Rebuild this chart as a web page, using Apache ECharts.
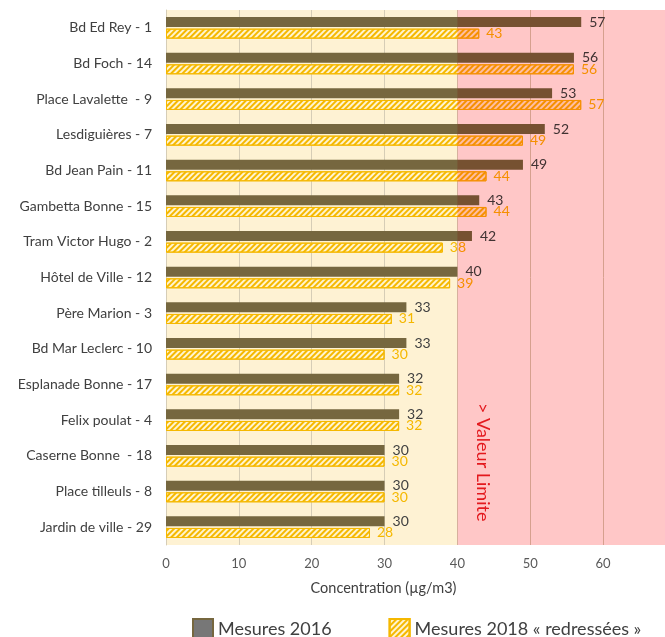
<!DOCTYPE html>
<html>
<head>
<meta charset="utf-8">
<script src="https://cdn.jsdelivr.net/npm/echarts@6/dist/echarts.min.js"></script>
<style>
  html, body { margin: 0; padding: 0; background: #ffffff; }
  #chart { width: 665px; height: 637px; }
</style>
</head>
<body>
<div id="chart"></div>
<script>
// Stations, listed top to bottom
const stations = [
  'Bd Ed Rey - 1',
  'Bd Foch - 14',
  'Place Lavalette  - 9',
  'Lesdiguières - 7',
  'Bd Jean Pain - 11',
  'Gambetta Bonne - 15',
  'Tram Victor Hugo - 2',
  'Hôtel de Ville - 12',
  'Père Marion - 3',
  'Bd Mar Leclerc - 10',
  'Esplanade Bonne - 17',
  'Felix poulat - 4',
  'Caserne Bonne  - 18',
  'Place tilleuls - 8',
  'Jardin de ville - 29'
];

// NO2 concentrations (µg/m3)
const values2016 = [57, 56, 53, 52, 49, 43, 42, 40, 33, 33, 32, 32, 30, 30, 30];
const values2018 = [43, 56, 57, 49, 44, 44, 38, 39, 31, 30, 32, 32, 30, 30, 28];

// Annual limit value and axis range
const limitValue = 40;
const axisMin = 0;
const axisMax = 68.5;
const axisStep = 10;

const seriesNames = ['Mesures 2016', 'Mesures 2018 « redressées »'];
const axisTitle = 'Concentration (µg/m3)';
const limitText = '> Valeur Limite';

const FONT = 'Lato, "Open Sans", sans-serif';

// Shaded zone across the full plot height between two x values
function zoneRenderer(fill) {
  return function (params, api) {
    const cs = params.coordSys;
    const x0 = api.coord([api.value(0), 0])[0];
    const x1 = api.coord([api.value(1), 0])[0];
    return {
      type: 'rect',
      silent: true,
      shape: { x: x0, y: cs.y, width: x1 - x0, height: cs.height },
      style: { fill: fill }
    };
  };
}

const chart = echarts.init(document.getElementById('chart'), null, { renderer: 'canvas' });

chart.setOption({
  backgroundColor: '#ffffff',
  animation: false,
  textStyle: { fontFamily: FONT },
  grid: {
    left: 166,
    right: 0,
    top: 10,
    bottom: 92,
    containLabel: false,
    outerBoundsMode: 'none'
  },
  legend: {
    left: 187,
    top: 613,
    icon: 'rect',
    itemWidth: 20,
    itemHeight: 20,
    itemGap: 57,
    selectedMode: false,
    textStyle: { fontSize: 18, color: '#404040', fontFamily: FONT },
    data: [
      { name: seriesNames[0], itemStyle: { color: '#777777', borderColor: '#76673F', borderWidth: 2 } },
      { name: seriesNames[1] }
    ]
  },
  xAxis: {
    type: 'value',
    min: axisMin,
    max: axisMax,
    interval: axisStep,
    z: 1,
    axisLine: { show: false },
    axisTick: { show: false },
    splitLine: { show: true, lineStyle: { color: '#D6CDB6', width: 1 } },
    axisLabel: {
      showMaxLabel: false,
      color: '#595959',
      fontSize: 13,
      fontFamily: FONT,
      margin: 12
    },
    name: axisTitle,
    nameLocation: 'middle',
    nameGap: 36,
    nameTextStyle: { color: '#404040', fontSize: 14.5, fontFamily: FONT, padding: [0, 64, 0, 0] }
  },
  yAxis: {
    type: 'category',
    data: stations,
    inverse: true,
    z: 1,
    axisLine: { show: true, lineStyle: { color: '#D6CDB6', width: 1 } },
    axisTick: { show: false },
    splitLine: { show: false },
    axisLabel: { color: '#404040', fontSize: 14, fontFamily: FONT, margin: 14 }
  },
  series: [
    {
      name: 'zone-below-limit',
      type: 'custom',
      z: 0,
      silent: true,
      encode: { x: [0, 1] },
      data: [[axisMin, limitValue]],
      renderItem: zoneRenderer('#FEF2D3')
    },
    {
      name: seriesNames[0],
      type: 'bar',
      z: 2,
      barWidth: 10,
      barGap: '16%',
      data: values2016,
      itemStyle: { color: '#76673F' },
      label: {
        show: true,
        position: 'right',
        distance: 8,
        color: '#404040',
        fontSize: 14,
        fontFamily: FONT
      }
    },
    {
      name: seriesNames[1],
      type: 'bar',
      z: 2,
      barWidth: 10,
      data: values2018,
      itemStyle: {
        color: '#FFF4CF',
        borderColor: '#F5B800',
        borderWidth: 1,
        decal: {
          symbol: 'rect',
          symbolSize: 1,
          color: '#F5B800',
          dashArrayX: [1, 0],
          dashArrayY: [2, 2],
          rotation: -Math.PI / 4
        }
      },
      label: {
        show: true,
        position: 'right',
        distance: 7,
        color: '#F5B800',
        fontSize: 14,
        fontFamily: FONT
      }
    },
    {
      // Tinted exceedance zone, multiplied over the bars beneath it
      name: 'zone-above-limit',
      type: 'custom',
      z: 5,
      silent: true,
      blendMode: 'multiply',
      encode: { x: [0, 1] },
      data: [[limitValue, axisMax]],
      renderItem: zoneRenderer('#FFC7C7')
    }
  ]
});

// Vertical annotation inside the exceedance zone
const limitX = chart.convertToPixel({ xAxisIndex: 0 }, limitValue);
chart.setOption({
  graphic: [{
    type: 'text',
    z: 100,
    x: limitX + 25,
    y: 403,
    rotation: -Math.PI / 2,
    style: {
      text: limitText,
      fill: '#E3191E',
      fontSize: 18,
      fontFamily: FONT,
      textAlign: 'left',
      textVerticalAlign: 'middle'
    }
  }]
});
</script>
</body>
</html>
